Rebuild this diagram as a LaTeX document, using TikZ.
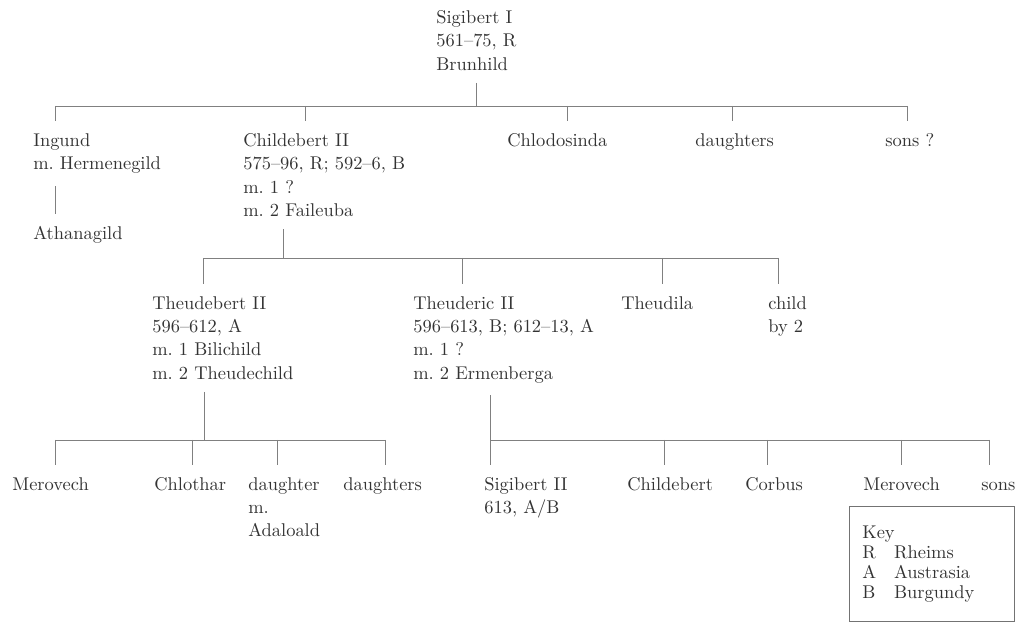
\documentclass[tikz,border=0pt]{standalone}
\frenchspacing
\tikzset{
  person/.style={anchor=north west, align=left, inner xsep=0pt, inner ysep=7pt,
    text=black!80, font=\fontsize{10.5}{13.2}\selectfont},
  link/.style={draw=black!50, line width=0.5pt},
  keybox/.style={draw=black!55, line width=0.5pt, anchor=north west, align=left,
    text width=2.78cm, minimum height=2.3cm, inner xsep=7.4pt,
    text=black!80, font=\fontsize{10.5}{11.4}\selectfont}
}
\begin{document}
\begin{tikzpicture}[x=0.02cm, y=-0.02cm]
    \useasboundingbox (0,0) rectangle (1018,624);

    % Nodes
    \node (sigi) [person] at (436,-2) {Sigibert I\\561--75, R\\Brunhild};

    \node (ingund) [person] at (33,121) {Ingund\\m. Hermenegild};
    \node (athan) [person] at (33,214) {Athanagild};
    \node (childeb) [person] at (243,121) {Childebert II\\575--96, R; 592--6, B\\m. 1 ?\\m. 2 Faileuba};
    \node (chlodo) [person] at (507,121) {Chlodosinda};
    \node (daus) [person] at (695,121) {daughters};
    \node (sonsq) [person] at (885,121) {sons ?};

    \node (theudeb) [person] at (152,284) {Theudebert II\\596--612, A\\m. 1 Bilichild\\m. 2 Theudechild};
    \node (theuder) [person] at (413,284) {Theuderic II\\596--613, B; 612--13, A\\m. 1 ?\\m. 2 Ermenberga};
    \node (theudila) [person] at (621,284) {Theudila};
    \node (child) [person] at (768,284) {child\\by 2};

    \node (merov) [person] at (12,465) {Merovech};
    \node (chloth) [person] at (154,465) {Chlothar};
    \node (dau) [person] at (248,465) {daughter\\m.\\Adaloald};
    \node (daus2) [person] at (343,465) {daughters};
    \node (sigi2) [person] at (484,465) {Sigibert II\\613, A/B};
    \node (childeb2) [person] at (627,465) {Childebert};
    \node (corbus) [person] at (745,465) {Corbus};
    \node (merov2) [person] at (863,465) {Merovech};
    \node (sons) [person] at (981,465) {\vphantom{d}sons};

    \node (key) [keybox] at (849,506) {Key\\\makebox[18pt][l]{R}Rheims\\\makebox[18pt][l]{A}Austrasia\\\makebox[18pt][l]{B}Burgundy};

    % Edges
    \draw[link] (sigi.south) -- (sigi.south |- 0,106);
    \draw[link] (55,106) -- (907,106);
    \foreach \n/\x in {ingund/55, childeb/305, chlodo/567, daus/732, sonsq/907}
        \draw[link] (\x,106) -- (\n.north -| \x,0);
    \draw[link] (ingund.south -| 55,0) -- (athan.north -| 55,0);

    \draw[link] (childeb.south -| 283,0) -- (283,258);
    \draw[link] (203,258) -- (778,258);
    \foreach \n/\x in {theudeb/203, theuder/462, theudila/662, child/778}
        \draw[link] (\x,258) -- (\n.north -| \x,0);

    \draw[link] (theudeb.south -| 204,0) -- (204,440);
    \draw[link] (55,440) -- (385,440);
    \foreach \n/\x in {merov/55, chloth/192, dau/277, daus2/385}
        \draw[link] (\x,440) -- (\n.north -| \x,0);

    \draw[link] (theuder.south -| 490,0) -- (sigi2.north -| 490,0);
    \draw[link] (490,440) -- (989,440);
    \foreach \n/\x in {childeb2/664, corbus/767, merov2/901, sons/989}
        \draw[link] (\x,440) -- (\n.north -| \x,0);

\end{tikzpicture}
\end{document}
